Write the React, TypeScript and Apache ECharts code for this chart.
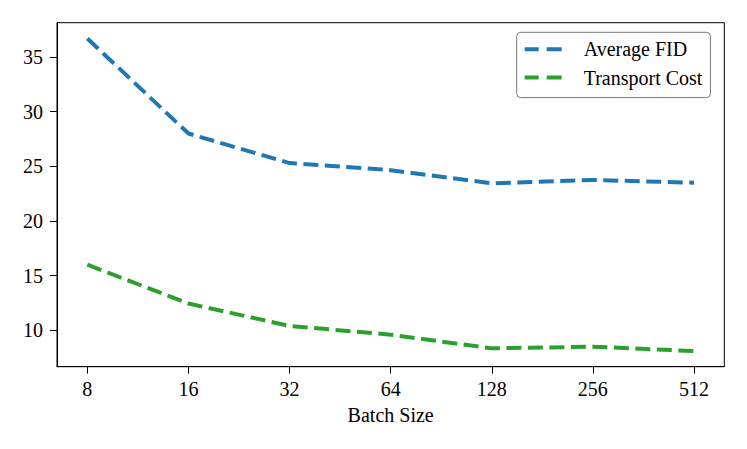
import React, { useEffect, useRef } from "react";
import * as echarts from "echarts";

const batchSizes = ["8", "16", "32", "64", "128", "256", "512"];
const averageFid = [36.7, 28.0, 25.3, 24.65, 23.45, 23.75, 23.5];
const transportCost = [16.0, 12.45, 10.4, 9.6, 8.35, 8.5, 8.1];
const yTicks = [10, 15, 20, 25, 30, 35];
const FONT = "'Liberation Serif', 'Times New Roman', serif";
const DASH_ICON = "path://M0,0h14v4h-14zM22,0h15v4h-15z";

export default function App() {
  const ref = useRef<HTMLDivElement>(null);
  useEffect(() => {
    document.body.style.margin = "0";
    const chart = echarts.init(ref.current!, null, { renderer: "svg" });
    const idx = batchSizes.map((_, i) => i);
    chart.setOption({
      animation: false,
      backgroundColor: "#ffffff",
      grid: {
        left: 57,
        right: 22.7,
        top: 22.7,
        bottom: 82.3,
        show: true,
        borderColor: "#000",
        borderWidth: 1,
        backgroundColor: "transparent",
      },
      legend: {
        left: 516.7,
        top: 32.3,
        orient: "vertical",
        icon: DASH_ICON,
        itemWidth: 37,
        itemHeight: 4,
        itemGap: 8.3,
        padding: [7, 8, 10, 8],
        borderColor: "#777",
        borderWidth: 1,
        borderRadius: 4,
        backgroundColor: "#fff",
        textStyle: {
          fontFamily: FONT,
          fontSize: 20,
          color: "#000",
          lineHeight: 20,
          padding: [0, 0, 0, 17],
        },
        data: ["Average FID", "Transport Cost"],
      },
      xAxis: {
        type: "value",
        min: -0.3,
        max: 6.3,
        name: "Batch Size",
        nameLocation: "middle",
        nameGap: 38,
        nameTextStyle: { fontFamily: FONT, fontSize: 20, color: "#000" },
        splitLine: { show: false },
        axisLine: { show: true, onZero: false, lineStyle: { color: "#000", width: 1 } },
        axisTick: {
          show: true,
          length: 7,
          customValues: idx,
          lineStyle: { color: "#000", width: 1 },
        },
        axisLabel: {
          customValues: idx,
          margin: 12,
          fontFamily: FONT,
          fontSize: 20,
          color: "#000",
          formatter: (v: number) => batchSizes[Math.round(v)] ?? "",
        },
      },
      yAxis: {
        type: "value",
        min: 6.67,
        max: 38.14,
        splitLine: { show: false },
        axisLine: { show: true, onZero: false, lineStyle: { color: "#000", width: 1 } },
        axisTick: {
          show: true,
          length: 7,
          customValues: yTicks,
          lineStyle: { color: "#000", width: 1 },
        },
        axisLabel: {
          customValues: yTicks,
          margin: 14,
          fontFamily: FONT,
          fontSize: 20,
          color: "#000",
        },
      },
      series: [
        {
          name: "Average FID",
          type: "line",
          symbol: "none",
          color: "#1f77b4",
          lineStyle: { width: 4, type: [15, 6.5], color: "#1f77b4", cap: "butt" },
          data: averageFid.map((v, i) => [i, v]),
        },
        {
          name: "Transport Cost",
          type: "line",
          symbol: "none",
          color: "#2ca02c",
          lineStyle: { width: 4, type: [15, 6.5], color: "#2ca02c", cap: "butt" },
          data: transportCost.map((v, i) => [i, v]),
        },
      ],
    });
    return () => chart.dispose();
  }, []);
  return (
    <div
      ref={ref}
      style={{ position: "absolute", left: 0, top: 0, width: 747, height: 449 }}
    />
  );
}
